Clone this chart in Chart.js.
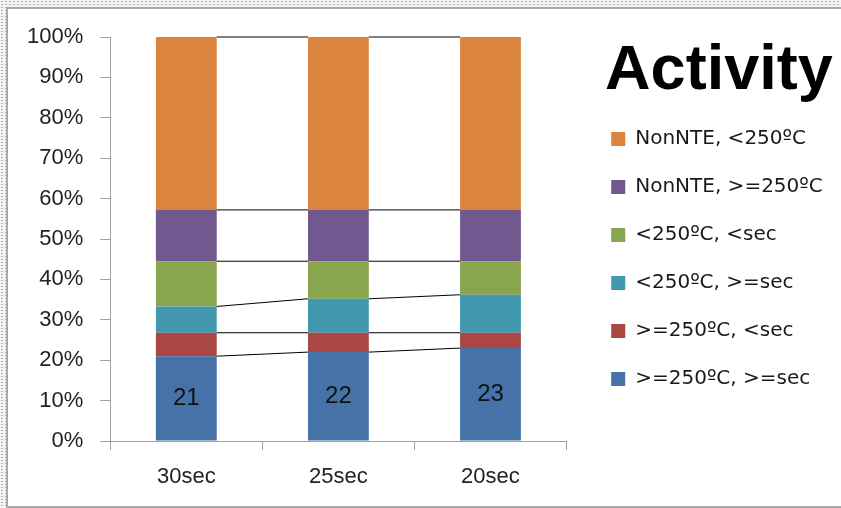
<!DOCTYPE html>
<html>
<head>
<meta charset="utf-8">
<title>Activity</title>
<script src="https://cdn.jsdelivr.net/npm/chart.js@4.4.1/dist/chart.umd.min.js"></script>
<style>
  html, body { margin: 0; padding: 0; width: 841px; height: 508px; overflow: hidden; }
  body {
    background-color: #f4f4f4;
    background-image: radial-gradient(circle, #b4b4b4 0.7px, transparent 1.1px);
    background-size: 4px 3px;
  }
  #panel {
    position: absolute; left: 6px; top: 7px; width: 845px; height: 497px;
    background: #ffffff; border: 2px solid #a9a9a9; border-right: none;
  }
  #wrap { position: absolute; left: 0; top: 0; width: 841px; height: 508px; }
</style>
</head>
<body>
<div id="panel"></div>
<div id="wrap"><canvas id="chart" width="841" height="508"></canvas></div>
<script>
// Test cycles on the x axis
const categories = ['30sec', '25sec', '20sec'];

// Share of activity (%) in each bin, per test cycle
const hotLong   = [21, 22, 23];        // >=250ºC, >=sec
const hotShort  = [5.8, 4.8, 3.8];     // >=250ºC, <sec
const coolLong  = [6.5, 8.4, 9.4];     // <250ºC, >=sec
const coolShort = [11.2, 9.3, 8.3];    // <250ºC, <sec
const nonHot    = [12.7, 12.7, 12.7];  // NonNTE, >=250ºC
const nonCool   = [42.8, 42.8, 42.8];  // NonNTE, <250ºC

const seriesNames = [
  '>=250ºC, >=sec', '>=250ºC, <sec', '<250ºC, >=sec',
  '<250ºC, <sec', 'NonNTE, >=250ºC', 'NonNTE, <250ºC'
];
const seriesValues = [hotLong, hotShort, coolLong, coolShort, nonHot, nonCool];
const seriesColors = ['#4572A7', '#AA4643', '#4198AF', '#89A54E', '#71588F', '#DB843D'];

const yTickStep = 10;
const yMax = 100;

const SANS = "'Liberation Sans', Arial, sans-serif";
const AXIS_GREY = '#a0a0a0';

// Connector lines between the tops of matching segments of neighbouring bars
const seriesLinesPlugin = {
  id: 'seriesLines',
  afterDatasetsDraw(chart) {
    const ctx = chart.ctx;
    ctx.save();
    ctx.strokeStyle = '#000000';
    ctx.lineWidth = 1;
    chart.data.datasets.forEach((ds, i) => {
      const meta = chart.getDatasetMeta(i);
      if (!meta.visible) return;
      for (let j = 0; j < meta.data.length - 1; j++) {
        const a = meta.data[j].getProps(['x', 'y', 'width'], true);
        const b = meta.data[j + 1].getProps(['x', 'y', 'width'], true);
        ctx.beginPath();
        ctx.moveTo(a.x + a.width / 2, a.y);
        ctx.lineTo(b.x - b.width / 2, b.y);
        ctx.stroke();
      }
    });
    ctx.restore();
  }
};

// Value labels centred in the bottom segment
const segmentLabelPlugin = {
  id: 'segmentLabels',
  afterDatasetsDraw(chart) {
    const ctx = chart.ctx;
    const meta = chart.getDatasetMeta(0);
    const values = chart.data.datasets[0].data;
    ctx.save();
    ctx.fillStyle = '#111111';
    ctx.font = '24px ' + SANS;
    ctx.textAlign = 'center';
    ctx.textBaseline = 'middle';
    meta.data.forEach((bar, j) => {
      const p = bar.getProps(['x', 'y', 'base'], true);
      ctx.fillText(String(values[j]), p.x, (p.y + p.base) / 2);
    });
    ctx.restore();
  }
};

new Chart(document.getElementById('chart'), {
  type: 'bar',
  data: {
    labels: categories,
    datasets: seriesValues.map((vals, i) => ({
      label: seriesNames[i],
      data: vals,
      backgroundColor: seriesColors[i],
      borderWidth: 0,
      categoryPercentage: 1.0,
      barPercentage: 0.4
    }))
  },
  options: {
    responsive: false,
    animation: false,
    layout: { padding: { top: 37, left: 10, right: 8.3, bottom: 4.6 } },
    scales: {
      x: {
        stacked: true,
        grid: { offset: true, drawOnChartArea: false, drawTicks: true, tickLength: 9, color: AXIS_GREY },
        border: { color: AXIS_GREY, width: 1 },
        ticks: { color: '#222222', padding: 13.5, font: { family: SANS, size: 22 } }
      },
      y: {
        stacked: true,
        min: 0,
        max: yMax,
        grid: { drawOnChartArea: false, drawTicks: true, tickLength: 10, color: AXIS_GREY },
        border: { color: AXIS_GREY, width: 1 },
        ticks: {
          stepSize: yTickStep,
          color: '#222222',
          padding: 17,
          font: { family: SANS, size: 22 },
          callback: v => v + '%'
        }
      },
      gap: {
        position: 'right',
        display: true,
        min: 0, max: 1,
        grid: { display: false },
        border: { display: false },
        ticks: { display: false },
        afterFit(scale) { scale.width = 16.7; }
      }
    },
    plugins: {
      tooltip: { enabled: false },
      legend: {
        position: 'right',
        align: 'start',
        reverse: true,
        maxWidth: 400,
        title: {
          display: true,
          text: 'Activity',
          position: 'end',
          color: '#000000',
          font: { family: SANS, size: 63, weight: 'bold', lineHeight: 1 },
          padding: { top: 3, bottom: -2 }
        },
        labels: {
          boxWidth: 14,
          boxHeight: 14,
          padding: 28,
          color: '#1a1a1a',
          font: { family: "'DejaVu Sans', sans-serif", size: 20 }
        }
      }
    }
  },
  plugins: [seriesLinesPlugin, segmentLabelPlugin]
});
</script>
</body>
</html>
